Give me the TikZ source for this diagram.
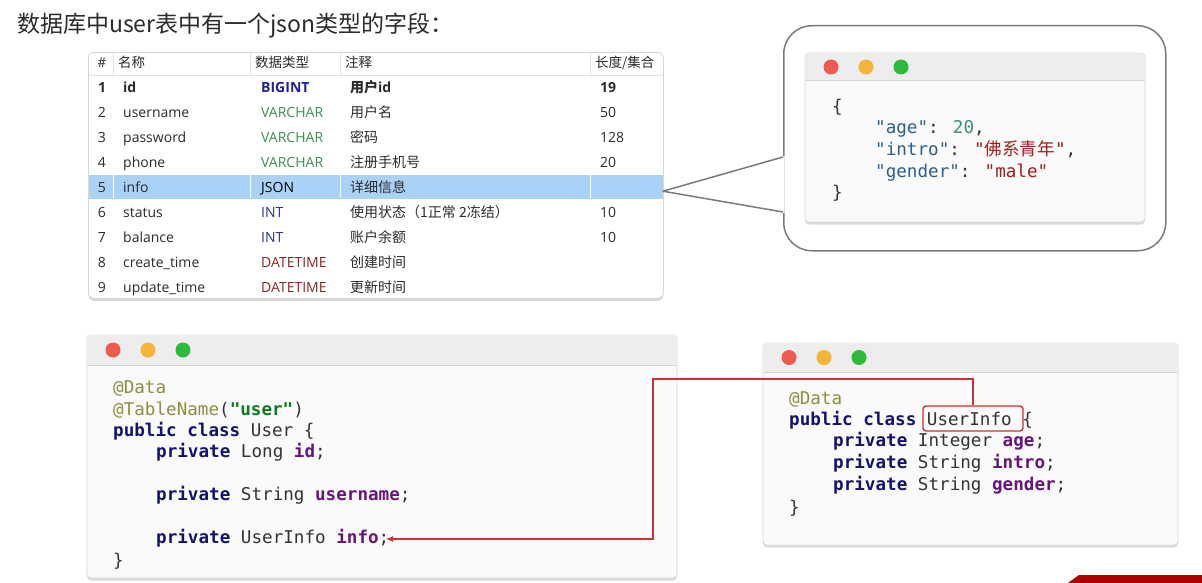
\documentclass[tikz,border=0pt]{standalone}
\usepackage{fontspec}
\setmainfont{Open Sans}
\newfontfamily\cjk{Noto Sans CJK SC}
\newfontfamily\code{DejaVu Sans Mono}
\usetikzlibrary{shadows,arrows.meta}
\definecolor{txtdark}{HTML}{2B2B2B}
\definecolor{tblborder}{HTML}{D6D6D6}
\definecolor{sepgray}{HTML}{E2E2E2}
\definecolor{hl}{HTML}{A9D2F6}
\definecolor{tbig}{HTML}{1F1FA3}
\definecolor{tvar}{HTML}{3D8F52}
\definecolor{tint}{HTML}{2E2E9C}
\definecolor{tdt}{HTML}{8B2323}
\definecolor{winbody}{HTML}{FAFAFA}
\definecolor{winbar}{HTML}{EDEDED}
\definecolor{winborder}{HTML}{DADADA}
\definecolor{winsep}{HTML}{D4D4D4}
\definecolor{dred}{HTML}{EC5A52}
\definecolor{dyel}{HTML}{F4B43A}
\definecolor{dgrn}{HTML}{2DBA3C}
\definecolor{kwc}{HTML}{13136E}
\definecolor{fldc}{HTML}{66157A}
\definecolor{annc}{HTML}{8E8E40}
\definecolor{strc}{HTML}{0B7A1F}
\definecolor{codedark}{HTML}{333333}
\definecolor{jkey}{HTML}{2C5F8E}
\definecolor{jnum}{HTML}{3A9070}
\definecolor{jstr}{HTML}{A31C1C}
\definecolor{bubblegray}{HTML}{7A7A7A}
\definecolor{connred}{HTML}{C83232}
\definecolor{banner}{HTML}{B00000}
\newcommand\kw[1]{{\bfseries\color{kwc}#1}}
\newcommand\fld[1]{{\bfseries\color{fldc}#1}}
\newcommand\jk[1]{{\color{jkey}#1}}
\newcommand\macwin[5]{%
  \draw[winborder, fill=winbody, rounded corners=4pt, line width=0.8pt,
        drop shadow={shadow xshift=0pt, shadow yshift=-2.5pt, opacity=0.28}] (#1,#2) rectangle (#3,#4);
  \begin{scope}
    \clip[rounded corners=4pt] (#1,#2) rectangle (#3,#4);
    \fill[winbar] (#1,#2) rectangle (#3,#5);
    \draw[winsep, line width=1pt] (#1,#5) -- (#3,#5);
  \end{scope}
  \fill[dred] ({#1+26},{(#2+#5)/2}) circle (7.5pt);
  \fill[dyel] ({#1+61},{(#2+#5)/2}) circle (7.5pt);
  \fill[dgrn] ({#1+96},{(#2+#5)/2}) circle (7.5pt);
}
\newcommand\tabrow[8]{%
  \node[tcell, anchor=base, #8] (num#2) at (102,{#1+5}) {#2};
  \node[tcell, #8] (name#2) at (123,{#1+5}) {#3};
  \node[tcell, text=#4, #8] (type#2) at (261,{#1+5}) {#5};
  \node[tcell, #8] (cmt#2) at (350,{#1+5}) {#6};
  \node[tcell, #8] (len#2) at (600,{#1+5}) {#7};
}
\begin{document}
\begin{tikzpicture}[x=1pt,y=-1pt,
  tcell/.style={font=\fontsize{14}{16}\selectfont, text=txtdark, inner sep=0, anchor=base west},
  thead/.style={font=\fontsize{13.5}{16}\selectfont, text=txtdark, inner sep=0, anchor=base west},
  boldrow/.style={font=\fontsize{14}{16}\selectfont\bfseries},
  plainrow/.style={},
  code/.style={font=\code\fontsize{17.6}{21}\selectfont, text=codedark, inner sep=0, anchor=base west},
  conn/.style={draw=connred, line width=1.1pt, -{Latex[length=7pt,width=6pt]}}]
\useasboundingbox (0,0) rectangle (1202,583);
\fill[white] (0,0) rectangle (1202,583);

% title
\node[anchor=base west, inner sep=0, text=txtdark, font=\cjk\fontsize{23}{27}\selectfont] (title) at (17,33) {数据库中user表中有一个json类型的字段：};

% table
\node[draw=tblborder, fill=white, rounded corners=6pt, line width=0.8pt, minimum width=575pt, minimum height=246pt,
      anchor=north west, inner sep=0, drop shadow={shadow xshift=0pt, shadow yshift=-2.5pt, opacity=0.3}] (tbl) at (88,52) {};
\draw[sepgray, line width=0.8pt] (88.5,75) -- (662.5,75);
\foreach \x in {113,250,340,590} \draw[sepgray, line width=1pt] (\x,53) -- (\x,75);
\node[fill=hl, minimum width=574pt, minimum height=24pt, anchor=north west, inner sep=0] (row5) at (88.5,175) {};
\foreach \x in {113,250,340,590} \draw[white, line width=1pt] (\x,175) -- (\x,199);

\node[thead, anchor=base] (h1) at (102,68) {\#};
\node[thead] (h2) at (118,68) {\cjk 名称};
\node[thead] (h3) at (255,68) {\cjk 数据类型};
\node[thead] (h4) at (345,68) {\cjk 注释};
\node[thead] (h5) at (595,68) {\cjk 长度/集合};

\tabrow{87.5}{1}{id}{tbig}{BIGINT}{{\cjk 用户}id}{19}{boldrow}
\tabrow{112.5}{2}{username}{tvar}{VARCHAR}{\cjk 用户名}{50}{plainrow}
\tabrow{137.5}{3}{password}{tvar}{VARCHAR}{\cjk 密码}{128}{plainrow}
\tabrow{162.5}{4}{phone}{tvar}{VARCHAR}{\cjk 注册手机号}{20}{plainrow}
\tabrow{187.5}{5}{info}{black}{JSON}{\cjk 详细信息}{}{plainrow}
\tabrow{212.5}{6}{status}{tint}{INT}{\cjk 使用状态（1正常 2冻结）}{10}{plainrow}
\tabrow{237.5}{7}{balance}{tint}{INT}{\cjk 账户余额}{10}{plainrow}
\tabrow{262.5}{8}{create\_time}{tdt}{DATETIME}{\cjk 创建时间}{}{plainrow}
\tabrow{287.5}{9}{update\_time}{tdt}{DATETIME}{\cjk 更新时间}{}{plainrow}

% callout bubble
\node[draw=bubblegray, line width=1.5pt, rounded corners=28pt, fill=white, minimum width=382pt, minimum height=225pt,
      anchor=north west, inner sep=0] (bubble) at (783,25) {};
\coordinate (pu) at (783,157);
\coordinate (pl) at (783,212);
\fill[white] ([yshift=-4pt]row5.east) -- (784.6,156) -- (784.6,213) -- cycle;
\draw[bubblegray, line width=1.5pt, line join=round] (pu) -- ([yshift=-4pt]row5.east) -- (pl);

% json window
\macwin{805}{53}{1145}{222}{81}
\node[code] (j1) at (832,112.5) {\{};
\node[code] (j2) at (875,134) {\jk{"age"}: {\color{jnum}20},};
\node[code] (j3) at (875,155.5) {\jk{"intro"}: {\color{jstr}"{\cjk 佛系青年}"},};
\node[code] (j4) at (875,177) {\jk{"gender"}: {\color{jstr}"male"}};
\node[code] (j5) at (832,198.5) {\}};

% left code window
\macwin{87}{335}{677}{578}{365}
\node[code] (l1) at (113,393) {{\color{annc}@Data}};
\node[code] (l2) at (113,415) {{\color{annc}@TableName}({\bfseries\color{strc}"user"})};
\node[code] (l3) at (113,436) {\kw{public class} User \{};
\node[code] (l4) at (156,457) {\kw{private} Long \fld{id};};
\node[code] (l5) at (156,500) {\kw{private} String \fld{username};};
\node[code] (l6) at (156,543) {\kw{private} UserInfo \fld{info};};
\node[code] (l7) at (113,566) {\}};

% right code window
\macwin{763}{343}{1178}{545}{372}
\node[code] (r1) at (789,404) {{\color{annc}@Data}};
\node[code] (r2) at (789,425) {\kw{public class} UserInfo \{};
\node[code] (r3) at (833,446) {\kw{private} Integer \fld{age};};
\node[code] (r4) at (833,468) {\kw{private} String \fld{intro};};
\node[code] (r5) at (833,490) {\kw{private} String \fld{gender};};
\node[code] (r6) at (789,513) {\}};

% red highlight box and connector
\node[draw=connred, line width=1.4pt, rounded corners=3pt, minimum width=100pt, minimum height=25pt, inner sep=0] (uibox) at (973,418.5) {};
\coordinate (bend) at (653,379);
\coordinate (infoend) at (386,539);
\draw[conn] (uibox.north) |- (bend) |- (infoend);

% banner fragment
\fill[banner] (1068,583) -- (1079,575) -- (1202,575) -- (1202,583) -- cycle;
\end{tikzpicture}
\end{document}
